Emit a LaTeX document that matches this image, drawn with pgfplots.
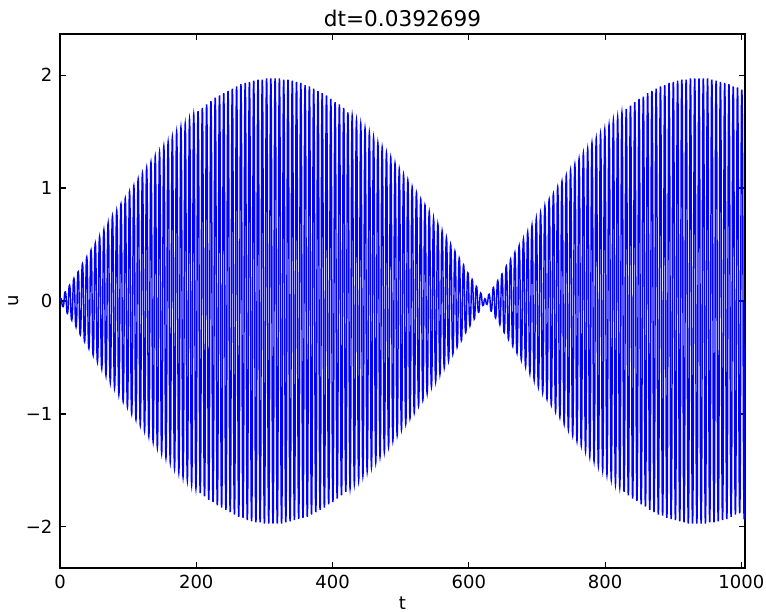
\documentclass[border=0pt]{standalone}
\usepackage{pgfplots}
\pgfplotsset{compat=1.18}
\usepackage{fontspec}
\setmainfont{DejaVu Sans}
\begin{document}
\begin{tikzpicture}
\begin{axis}[
  name=ax,
  scale only axis,
  width=456.7pt, height=356pt,
  xmin=0, xmax=1005.3, ymin=-2.364, ymax=2.364,
  xtick={0,200,400,600,800,1000},
  xticklabels={0,200,400,600,800,1000},
  ytick={-2,-1,0,1,2},
  yticklabels={−2,−1,0,1,2},
  tick align=inside,
  major tick length=4pt,
  minor tick num=0,
  axis line style={line width=0.8pt},
  tick style={line width=0.8pt, black},
  ticklabel style={font=\fontsize{12}{14}\selectfont},
  xticklabel style={yshift=-1.5pt},
  yticklabel style={xshift=-1.5pt},
  every axis title shift=0pt,
  title={dt=0.0392699},
  title style={font=\fontsize{14.4}{17}\selectfont, at={(axis description cs:0.5,1)}, anchor=base, yshift=4.7pt},
  xlabel={t},
  xlabel style={font=\fontsize{12}{14}\selectfont, at={(axis description cs:0.5,0)}, anchor=base, yshift=-27.5pt},
  ylabel={u},
  ylabel style={font=\fontsize{12}{14}\selectfont, at={(axis description cs:-0.0672,0.5)}, anchor=center},
]
\addplot[color={rgb,1:red,0;green,0;blue,1}, line width=0.95pt, smooth, tension=1, mark=none] coordinates {
(0,0)
(1.6,0.02)(4.7,-0.05)(7.9,0.08)(11.0,-0.11)(14.1,0.14)(17.3,-0.17)(20.4,0.20)(23.6,-0.23)(26.7,0.26)(29.8,-0.30)
(33.0,0.33)(36.1,-0.36)(39.3,0.39)(42.4,-0.42)(45.6,0.45)(48.7,-0.48)(51.8,0.51)(55.0,-0.54)(58.1,0.57)(61.3,-0.60)
(64.4,0.63)(67.5,-0.66)(70.7,0.69)(73.8,-0.72)(77.0,0.75)(80.1,-0.77)(83.3,0.80)(86.4,-0.83)(89.5,0.86)(92.7,-0.89)
(95.8,0.91)(99.0,-0.94)(102.1,0.97)(105.2,-1.00)(108.4,1.02)(111.5,-1.05)(114.7,1.08)(117.8,-1.10)(121.0,1.13)(124.1,-1.15)
(127.2,1.18)(130.4,-1.20)(133.5,1.23)(136.7,-1.25)(139.8,1.28)(142.9,-1.30)(146.1,1.32)(149.2,-1.35)(152.4,1.37)(155.5,-1.39)
(158.7,1.41)(161.8,-1.43)(164.9,1.45)(168.1,-1.48)(171.2,1.50)(174.4,-1.52)(177.5,1.54)(180.6,-1.56)(183.8,1.57)(186.9,-1.59)
(190.1,1.61)(193.2,-1.63)(196.3,1.65)(199.5,-1.66)(202.6,1.68)(205.8,-1.70)(208.9,1.71)(212.1,-1.73)(215.2,1.74)(218.3,-1.76)
(221.5,1.77)(224.6,-1.78)(227.8,1.80)(230.9,-1.81)(234.1,1.82)(237.2,-1.83)(240.3,1.84)(243.5,-1.85)(246.6,1.86)(249.8,-1.87)
(252.9,1.88)(256.0,-1.89)(259.2,1.90)(262.3,-1.91)(265.5,1.92)(268.6,-1.92)(271.8,1.93)(274.9,-1.94)(278.0,1.94)(281.2,-1.95)
(284.3,1.95)(287.5,-1.96)(290.6,1.96)(293.7,-1.96)(296.9,1.96)(300.0,-1.97)(303.2,1.97)(306.3,-1.97)(309.4,1.97)(312.6,-1.97)
(315.7,1.97)(318.9,-1.97)(322.0,1.97)(325.2,-1.97)(328.3,1.96)(331.4,-1.96)(334.6,1.96)(337.7,-1.95)(340.9,1.95)(344.0,-1.94)
(347.1,1.94)(350.3,-1.93)(353.4,1.93)(356.6,-1.92)(359.7,1.91)(362.9,-1.91)(366.0,1.90)(369.1,-1.89)(372.3,1.88)(375.4,-1.87)
(378.6,1.86)(381.7,-1.85)(384.8,1.84)(388.0,-1.83)(391.1,1.82)(394.3,-1.80)(397.4,1.79)(400.5,-1.78)(403.7,1.76)(406.8,-1.75)
(410.0,1.74)(413.1,-1.72)(416.3,1.71)(419.4,-1.69)(422.5,1.67)(425.7,-1.66)(428.8,1.64)(432.0,-1.62)(435.1,1.60)(438.3,-1.59)
(441.4,1.57)(444.5,-1.55)(447.7,1.53)(450.8,-1.51)(454.0,1.49)(457.1,-1.47)(460.2,1.45)(463.4,-1.43)(466.5,1.40)(469.7,-1.38)
(472.8,1.36)(476.0,-1.34)(479.1,1.31)(482.2,-1.29)(485.4,1.27)(488.5,-1.24)(491.7,1.22)(494.8,-1.19)(497.9,1.17)(501.1,-1.14)
(504.2,1.12)(507.4,-1.09)(510.5,1.07)(513.6,-1.04)(516.8,1.01)(519.9,-0.99)(523.1,0.96)(526.2,-0.93)(529.4,0.90)(532.5,-0.88)
(535.6,0.85)(538.8,-0.82)(541.9,0.79)(545.1,-0.76)(548.2,0.73)(551.3,-0.71)(554.5,0.68)(557.6,-0.65)(560.8,0.62)(563.9,-0.59)
(567.1,0.56)(570.2,-0.53)(573.3,0.50)(576.5,-0.47)(579.6,0.44)(582.8,-0.41)(585.9,0.38)(589.0,-0.35)(592.2,0.32)(595.3,-0.28)
(598.5,0.25)(601.6,-0.22)(604.8,0.19)(607.9,-0.16)(611.0,0.13)(614.2,-0.10)(617.3,0.07)(620.5,-0.04)(623.6,0.02)(626.7,-0.03)
(629.9,0.06)(633.0,-0.09)(636.2,0.12)(639.3,-0.15)(642.5,0.18)(645.6,-0.21)(648.7,0.24)(651.9,-0.28)(655.0,0.31)(658.2,-0.34)
(661.3,0.37)(664.5,-0.40)(667.6,0.43)(670.7,-0.46)(673.9,0.49)(677.0,-0.52)(680.2,0.55)(683.3,-0.58)(686.4,0.61)(689.6,-0.64)
(692.7,0.67)(695.9,-0.70)(699.0,0.73)(702.1,-0.76)(705.3,0.78)(708.4,-0.81)(711.6,0.84)(714.7,-0.87)(717.9,0.90)(721.0,-0.92)
(724.1,0.95)(727.3,-0.98)(730.4,1.01)(733.6,-1.03)(736.7,1.06)(739.9,-1.09)(743.0,1.11)(746.1,-1.14)(749.3,1.16)(752.4,-1.19)
(755.6,1.21)(758.7,-1.24)(761.8,1.26)(765.0,-1.28)(768.1,1.31)(771.3,-1.33)(774.4,1.35)(777.5,-1.38)(780.7,1.40)(783.8,-1.42)
(787.0,1.44)(790.1,-1.46)(793.3,1.48)(796.4,-1.50)(799.5,1.52)(802.7,-1.54)(805.8,1.56)(809.0,-1.58)(812.1,1.60)(815.2,-1.62)
(818.4,1.63)(821.5,-1.65)(824.7,1.67)(827.8,-1.69)(831.0,1.70)(834.1,-1.72)(837.2,1.73)(840.4,-1.75)(843.5,1.76)(846.7,-1.77)
(849.8,1.79)(852.9,-1.80)(856.1,1.81)(859.2,-1.82)(862.4,1.84)(865.5,-1.85)(868.7,1.86)(871.8,-1.87)(874.9,1.88)(878.1,-1.89)
(881.2,1.90)(884.4,-1.90)(887.5,1.91)(890.6,-1.92)(893.8,1.93)(896.9,-1.93)(900.1,1.94)(903.2,-1.94)(906.4,1.95)(909.5,-1.95)
(912.6,1.96)(915.8,-1.96)(918.9,1.96)(922.1,-1.97)(925.2,1.97)(928.3,-1.97)(931.5,1.97)(934.6,-1.97)(937.8,1.97)(940.9,-1.97)
(944.1,1.97)(947.2,-1.97)(950.3,1.97)(953.5,-1.96)(956.6,1.96)(959.8,-1.96)(962.9,1.95)(966.0,-1.95)(969.2,1.94)(972.3,-1.94)
(975.5,1.93)(978.6,-1.93)(981.7,1.92)(984.9,-1.91)(988.0,1.90)(991.2,-1.89)(994.3,1.89)(997.5,-1.88)(1000.6,1.87)(1003.7,-1.86)
(1005.3,0)
};
\end{axis}
\pgfresetboundingbox
\path (ax.south west) ++(-40pt,-29.33pt) coordinate (bbsw);
\path (ax.north east) ++(14pt,22.67pt) coordinate (bbne);
\useasboundingbox (bbsw) rectangle (bbne);
\end{tikzpicture}
\end{document}
